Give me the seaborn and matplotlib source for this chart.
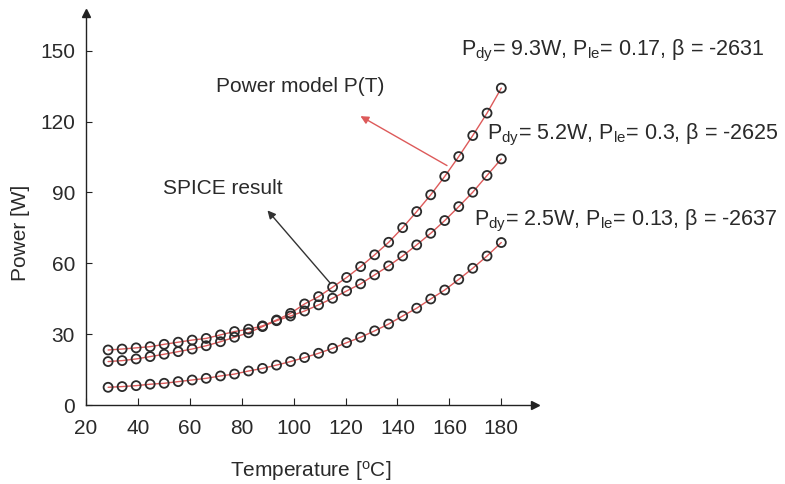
import numpy as np
import pandas as pd
import matplotlib
matplotlib.use("Agg")
import matplotlib.pyplot as plt
import seaborn as sns

# temperatures [C] of the SPICE samples
temps = [28.5, 33.9, 39.3, 44.7, 50.1, 55.5, 60.9, 66.3, 71.8, 77.2,
         82.6, 88.0, 93.4, 98.8, 104.2, 109.6, 115.0, 120.4, 125.8, 131.2,
         136.6, 142.0, 147.4, 152.8, 158.2, 163.6, 169.0, 174.5, 180.0]

# power [W]
p_93 = [23.3, 23.7, 24.2, 24.7, 25.7, 26.6, 27.5, 28.2, 29.7, 31.1,
        32.1, 33.5, 36.0, 38.8, 42.8, 45.9, 49.9, 54.0, 58.6, 63.6,
        68.9, 75.1, 81.9, 89.0, 96.8, 105.2, 114.1, 123.6, 134.2]
p_52 = [18.4, 18.8, 19.5, 20.5, 21.5, 22.6, 23.7, 25.1, 26.8, 28.7,
        30.6, 33.2, 35.7, 37.7, 39.8, 42.4, 45.2, 48.3, 51.3, 55.1,
        58.9, 63.1, 67.8, 72.7, 78.1, 84.0, 90.1, 97.2, 104.2]
p_25 = [7.5, 7.8, 8.2, 8.8, 9.2, 9.9, 10.6, 11.3, 12.3, 13.1,
        14.4, 15.5, 16.9, 18.4, 20.1, 21.9, 24.0, 26.4, 28.7, 31.4,
        34.3, 37.7, 41.0, 44.9, 48.7, 53.2, 57.9, 63.1, 68.8]

labels = [r"P$_{\rm dy}$= 9.3W, P$_{\rm le}$= 0.17, β = -2631",
          r"P$_{\rm dy}$= 5.2W, P$_{\rm le}$= 0.3, β = -2625",
          r"P$_{\rm dy}$= 2.5W, P$_{\rm le}$= 0.13, β = -2637"]
label_pos = [(164.5, 150.0), (174.3, 114.5), (169.3, 78.0)]

x_ticks = [20, 40, 60, 80, 100, 120, 140, 160, 180]
y_ticks = [0, 30, 60, 90, 120, 150]

df = pd.DataFrame({
    "T": temps * 3,
    "P": p_93 + p_52 + p_25,
    "case": ["9.3"] * len(temps) + ["5.2"] * len(temps) + ["2.5"] * len(temps),
})

sns.set_style("ticks")
plt.rcParams["font.family"] = ["Liberation Sans", "DejaVu Sans"]
plt.rcParams["mathtext.fontset"] = "custom"
plt.rcParams["mathtext.rm"] = "Liberation Sans"
plt.rcParams["mathtext.it"] = "Liberation Sans:italic"

txt = "#2a2a2a"
red = "#dd5a5a"
fs = 15

fig = plt.figure(figsize=(7.85, 4.84), dpi=100)
ax = fig.add_axes([0.1096, 0.1632, 0.572, 0.81])

# power model lines (red) and SPICE points (open circles)
sns.lineplot(data=df, x="T", y="P", units="case", estimator=None,
             color=red, linewidth=1.0, ax=ax, legend=False)
sns.scatterplot(data=df, x="T", y="P", marker="o", s=42,
                facecolors="none", edgecolor="#2b2b2b", linewidth=1.3,
                ax=ax, legend=False, zorder=3)

ax.set_xlim(20, 193)
ax.set_ylim(0, 166)
ax.set_xticks(x_ticks)
ax.set_yticks(y_ticks)
ax.tick_params(axis="x", direction="in", length=5, labelsize=fs, colors="#222", labelcolor=txt, pad=10)
ax.tick_params(axis="y", direction="in", length=4, labelsize=fs, colors="#222", labelcolor=txt, pad=8)
sns.despine(ax=ax)
for s in ["left", "bottom"]:
    ax.spines[s].set_color("#222")
    ax.spines[s].set_linewidth(1.0)

# axis arrows
ax.plot(1, 0, ">", color="#222", markersize=6, transform=ax.transAxes, clip_on=False)
ax.plot(0, 1, "^", color="#222", markersize=6, transform=ax.transAxes, clip_on=False)

ax.set_xlabel(r"Temperature [$^{\rm o}$C]", fontsize=fs, color=txt, labelpad=15)
ax.set_ylabel("Power [W]", fontsize=fs, color=txt)
ax.yaxis.set_label_coords(-0.125, 0.44)

for lab, (lx, ly) in zip(labels, label_pos):
    ax.text(lx, ly, lab, fontsize=15.5, color=txt, ha="left", va="center", clip_on=False)

ax.annotate("", xy=(124.8, 122.9), xytext=(160.0, 100.8),
            arrowprops=dict(arrowstyle="-|>", color=red, lw=1.0, mutation_scale=12))
ax.text(102.6, 134.7, "Power model P(T)", fontsize=fs, color=txt, ha="center", va="center")
ax.annotate("", xy=(89.2, 83.3), xytext=(114.7, 50.8),
            arrowprops=dict(arrowstyle="-|>", color="#333", lw=1.0, mutation_scale=12))
ax.text(72.7, 91.5, "SPICE result", fontsize=fs, color=txt, ha="center", va="center")

fig.savefig("out.png", dpi=100)
